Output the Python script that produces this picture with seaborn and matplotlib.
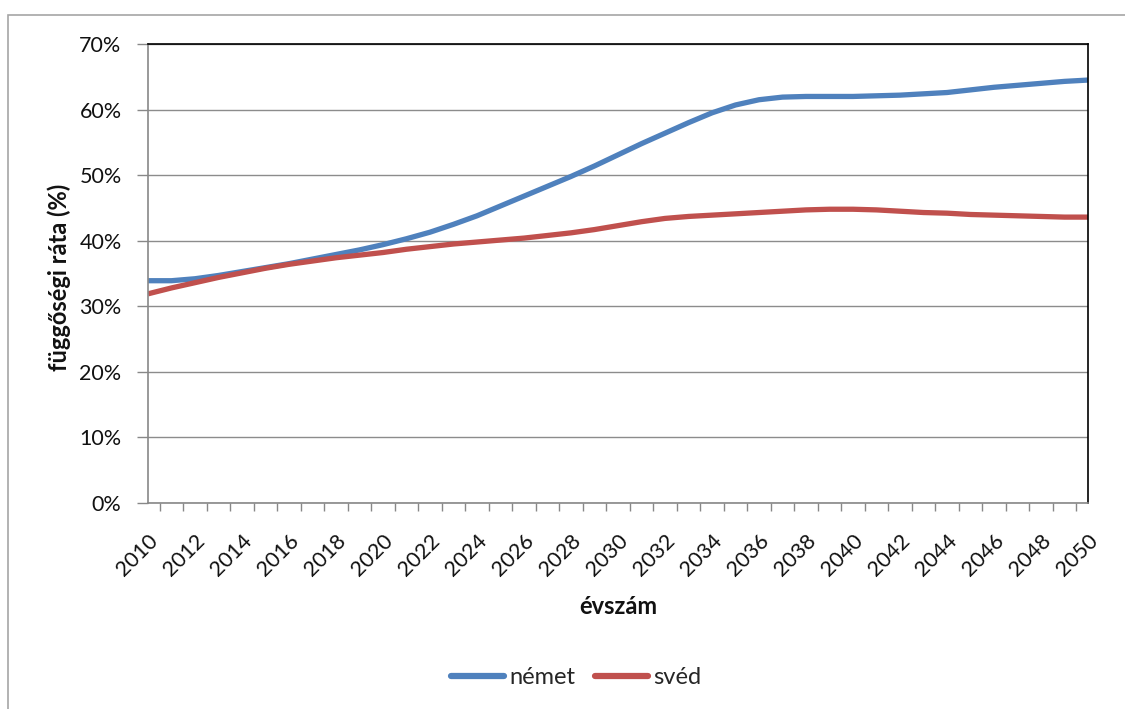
import numpy as np
import pandas as pd
import matplotlib
matplotlib.use("Agg")
import matplotlib.pyplot as plt
import seaborn as sns
from matplotlib.ticker import MultipleLocator, FuncFormatter, FixedLocator
from matplotlib.patches import Rectangle
from matplotlib.lines import Line2D

years = list(range(2010, 2051))
nemet = [33.9, 33.9, 34.2, 34.7, 35.3, 35.9, 36.5, 37.2, 37.9, 38.6,
         39.4, 40.3, 41.3, 42.5, 43.8, 45.3, 46.8, 48.3, 49.8, 51.4,
         53.1, 54.8, 56.4, 58.0, 59.5, 60.7, 61.5, 61.9, 62.0, 62.0,
         62.0, 62.1, 62.2, 62.4, 62.6, 63.0, 63.4, 63.7, 64.0, 64.3, 64.5]
sved = [31.9, 32.8, 33.6, 34.4, 35.1, 35.8, 36.4, 36.9, 37.4, 37.8,
        38.2, 38.7, 39.1, 39.5, 39.8, 40.1, 40.4, 40.8, 41.2, 41.7,
        42.3, 42.9, 43.4, 43.7, 43.9, 44.1, 44.3, 44.5, 44.7, 44.8,
        44.8, 44.7, 44.5, 44.3, 44.2, 44.0, 43.9, 43.8, 43.7, 43.6, 43.6]
tick_years = list(range(2010, 2051, 2))
series_names = ["német", "svéd"]
colors = ["#4F81BD", "#C0504D"]
y_label = "függőségi ráta (%)"
x_label = "évszám"

df = pd.DataFrame({
    "year": years * 2,
    "value": nemet + sved,
    "series": [series_names[0]] * len(years) + [series_names[1]] * len(years),
})

sns.set_theme(style="white")
plt.rcParams["font.family"] = ["Lato", "DejaVu Sans"]

fig = plt.figure(figsize=(11.25, 7.09), dpi=100)
ax = fig.add_axes([148 / 1125, 1 - 503 / 709, (1088 - 148) / 1125, (503 - 44) / 709])

sns.lineplot(data=df, x="year", y="value", hue="series", palette=colors,
             linewidth=3.8, ax=ax, legend=False, solid_capstyle="butt",
             solid_joinstyle="round")

ax.set_xlim(2010, 2050)
ax.set_ylim(0, 70)
ax.yaxis.set_major_locator(MultipleLocator(10))
ax.yaxis.set_major_formatter(FuncFormatter(lambda v, p: f"{int(round(v))}%"))
ax.set_xticks(tick_years)
ax.set_xticklabels([str(y) for y in tick_years], rotation=45, ha="right", va="top",
                   rotation_mode="anchor", fontsize=15.5, color="#111111")
ax.xaxis.set_minor_locator(FixedLocator([y + 0.5 for y in range(2010, 2050)]))
ax.tick_params(axis="y", labelsize=15.5, labelcolor="#111111", direction="out",
               length=8, width=1, color="#888888", left=True, pad=11)
ax.tick_params(axis="x", which="major", length=0, bottom=True, pad=20)
ax.tick_params(axis="x", which="minor", direction="out", length=6, width=1,
               color="#888888", bottom=True)

ax.grid(axis="y", color="#8c8c8c", linewidth=1)
ax.set_axisbelow(True)
for side in ["top", "right"]:
    ax.spines[side].set_color("#000000")
    ax.spines[side].set_linewidth(1.2)
    ax.spines[side].set_visible(True)
for side in ["left", "bottom"]:
    ax.spines[side].set_color("#888888")
    ax.spines[side].set_linewidth(1.2)
    ax.spines[side].set_visible(True)

ax.set_xlabel(x_label, fontsize=17, fontweight="bold", color="#111111")
ax.xaxis.label.set_va("center")
ax.xaxis.set_label_coords((618 - 148) / 940, (503 - 607) / 459)
ax.set_ylabel(y_label, fontsize=17, fontweight="bold", color="#111111")
ax.yaxis.label.set_va("center")
ax.yaxis.set_label_coords((59 - 148) / 940, (503 - 277) / 459)

handles = [Line2D([0], [0], color=c, linewidth=4.5) for c in colors]
fig.legend(handles, series_names, loc="center", bbox_to_anchor=(576 / 1125, 1 - 678 / 709),
           ncol=2, frameon=False, fontsize=17, handlelength=2.25, handletextpad=0.2,
           columnspacing=0.85)

fig.patches.append(Rectangle((8 / 1125, -0.1), 1.2, 1 - 15 / 709 + 0.1,
                             transform=fig.transFigure, fill=False,
                             edgecolor="#a6a6a6", linewidth=1.2))

fig.savefig("out.png", dpi=100, facecolor="white")
